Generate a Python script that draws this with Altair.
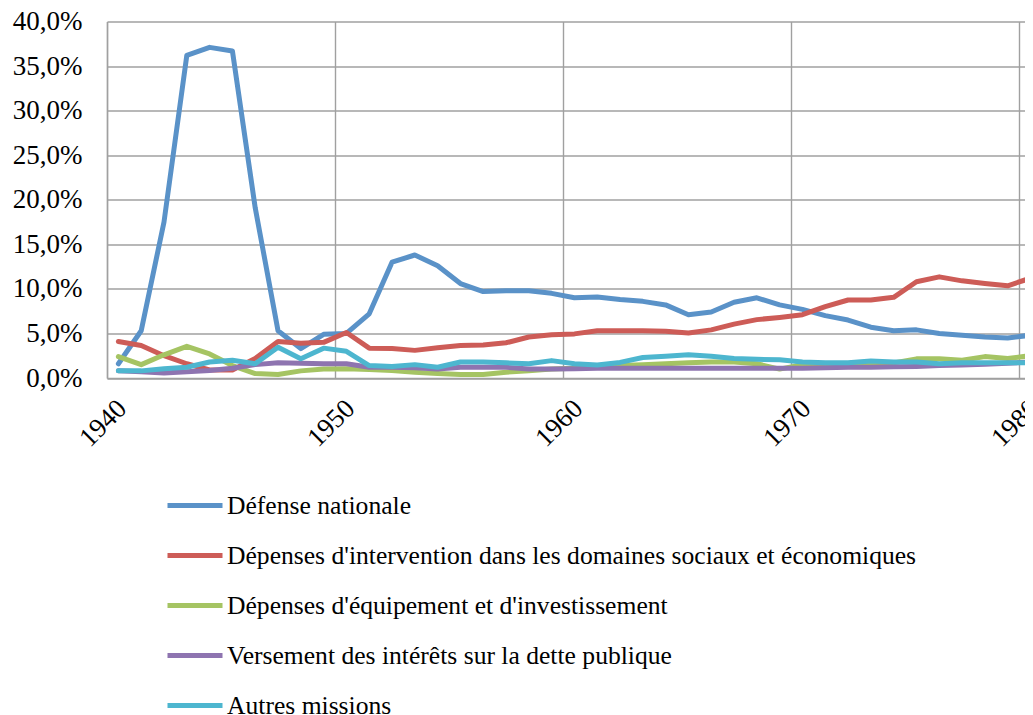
import altair as alt
import pandas as pd

years = list(range(1940, 1981))

series_names = [
    "Défense nationale",
    "Dépenses d'intervention dans les domaines sociaux et économiques",
    "Dépenses d'équipement et d'investissement",
    "Versement des intérêts sur la dette publique",
    "Autres missions",
]
series_colors = ["#5A92C8", "#CD5C57", "#A5C463", "#8E74B0", "#4DB6CF"]

defense = [1.6, 5.3, 17.5, 36.2, 37.1, 36.7, 19.1, 5.3, 3.3, 4.9,
           5.0, 7.2, 13.0, 13.8, 12.6, 10.6, 9.7, 9.8, 9.8, 9.5,
           9.0, 9.1, 8.8, 8.6, 8.2, 7.1, 7.4, 8.5, 9.0, 8.2,
           7.7, 7.0, 6.5, 5.7, 5.3, 5.4, 5.0, 4.8, 4.6, 4.5, 4.8]
intervention = [4.1, 3.65, 2.5, 1.6, 0.9, 0.9, 2.2, 4.1, 3.9, 4.0,
                5.1, 3.35, 3.3, 3.1, 3.4, 3.65, 3.7, 3.95, 4.6, 4.85,
                4.95, 5.3, 5.3, 5.3, 5.25, 5.05, 5.4, 6.05, 6.55, 6.8,
                7.1, 8.0, 8.75, 8.75, 9.05, 10.8, 11.35, 10.9, 10.6, 10.35, 11.2]
equipement = [2.4, 1.5, 2.6, 3.55, 2.7, 1.4, 0.5, 0.4, 0.8, 1.0,
              1.05, 0.95, 0.85, 0.65, 0.5, 0.4, 0.4, 0.65, 0.8, 1.0,
              1.1, 1.3, 1.4, 1.5, 1.6, 1.7, 1.8, 1.8, 1.6, 1.0,
              1.5, 1.5, 1.5, 1.6, 1.7, 2.15, 2.15, 2.0, 2.4, 2.2, 2.5]
interets = [0.8, 0.7, 0.55, 0.7, 0.85, 1.1, 1.5, 1.7, 1.65, 1.6,
            1.6, 1.2, 1.2, 1.15, 1.0, 1.2, 1.2, 1.2, 1.0, 1.0,
            1.05, 1.1, 1.1, 1.1, 1.1, 1.1, 1.1, 1.1, 1.1, 1.1,
            1.1, 1.15, 1.2, 1.2, 1.25, 1.3, 1.4, 1.45, 1.55, 1.65, 1.8]
autres = [0.8, 0.8, 1.05, 1.2, 1.8, 2.0, 1.6, 3.45, 2.15, 3.35,
          3.0, 1.4, 1.3, 1.5, 1.2, 1.8, 1.8, 1.7, 1.6, 1.95,
          1.6, 1.45, 1.75, 2.3, 2.45, 2.6, 2.45, 2.2, 2.1, 2.05,
          1.8, 1.7, 1.7, 1.9, 1.8, 1.8, 1.6, 1.7, 1.7, 1.7, 1.7]

y_ticks = [0, 5, 10, 15, 20, 25, 30, 35, 40]
x_grid = [1939.5, 1949.5, 1959.5, 1969.5, 1979.5]

all_values = [defense, intervention, equipement, interets, autres]
rows = []
for name, vals in zip(series_names, all_values):
    for yr, v in zip(years, vals):
        rows.append({"annee": yr, "valeur": v, "serie": name})
df = pd.DataFrame(rows)

FONT = "Liberation Serif"

chart = (
    alt.Chart(df)
    .mark_line(strokeWidth=5, strokeCap="round", strokeJoin="round", clip=True)
    .encode(
        x=alt.X(
            "annee:Q",
            scale=alt.Scale(domain=[1939.5, 1979.76], nice=False, zero=False),
            axis=alt.Axis(
                values=x_grid,
                labelExpr="'' + (datum.value + 0.5)",
                labelOffset=15,
                labelAngle=-45,
                labelAlign="right",
                labelBaseline="middle",
                labelPadding=26,
                labelFont=FONT,
                labelFontSize=27,
                labelColor="#000000",
                ticks=False,
                grid=True,
                gridColor="#A0A0A0",
                gridWidth=1.4,
                domainColor="#A0A0A0",
                domainWidth=1.4,
                title=None,
            ),
        ),
        y=alt.Y(
            "valeur:Q",
            scale=alt.Scale(domain=[0, 40], nice=False),
            axis=alt.Axis(
                values=y_ticks,
                labelExpr="replace(format(datum.value, '.1f'), '.', ',') + '%'",
                labelFont=FONT,
                labelFontSize=27,
                labelColor="#000000",
                labelPadding=25,
                ticks=False,
                grid=True,
                gridColor="#A0A0A0",
                gridWidth=1.4,
                domainColor="#A0A0A0",
                domainWidth=1.4,
                title=None,
            ),
        ),
        color=alt.Color(
            "serie:N",
            scale=alt.Scale(domain=series_names, range=series_colors),
            legend=alt.Legend(
                title=None,
                orient="none",
                legendX=58,
                legendY=454,
                direction="vertical",
                symbolType="stroke",
                symbolSize=3025,
                symbolStrokeWidth=5,
                labelFont=FONT,
                labelFontSize=25.6,
                labelColor="#000000",
                labelOffset=2,
                labelLimit=900,
                rowPadding=6,
                padding=0,
            ),
        ),
    )
    .properties(
        width=918,
        height=356.5,
        autosize=alt.AutoSizeParams(type="none"),
        padding={"left": 99, "top": 13.5, "right": 0, "bottom": 345},
    )
    .configure_view(stroke=None)
)

chart.save("out.html", embed_options={"renderer": "svg", "actions": False})
